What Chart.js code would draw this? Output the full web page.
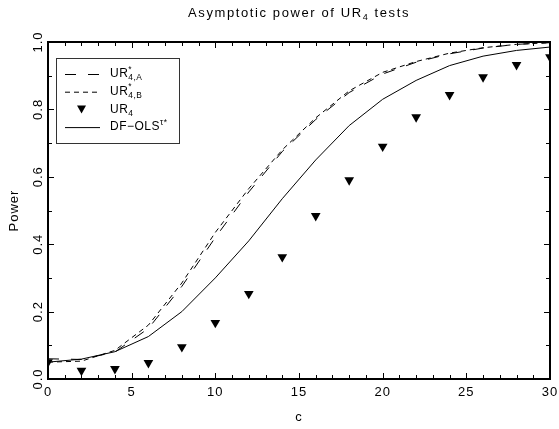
<!DOCTYPE html>
<html lang="en">
<head>
<meta charset="UTF-8">
<title>Asymptotic power of UR4 tests</title>
<script src="https://cdn.jsdelivr.net/npm/chart.js"></script>
<style>
  html, body { margin: 0; padding: 0; background: #fff; }
  #wrap { width: 559px; height: 429px; }
</style>
</head>
<body>
<div id="wrap"><canvas id="chart" width="559" height="429"></canvas></div>
<script>
// Data
const cValues = [0, 2, 4, 6, 8, 10, 12, 14, 16, 18, 20, 22, 24, 26, 28, 30];
const powerURA = [0.060, 0.058, 0.080, 0.150, 0.275, 0.420, 0.555, 0.675, 0.770, 0.850, 0.905, 0.940, 0.965, 0.982, 0.993, 0.998];
const powerURB = [0.050, 0.053, 0.085, 0.160, 0.285, 0.435, 0.565, 0.680, 0.775, 0.855, 0.910, 0.942, 0.967, 0.983, 0.993, 0.998];
const powerUR4 = [0.050, 0.025, 0.030, 0.048, 0.095, 0.167, 0.253, 0.362, 0.484, 0.590, 0.690, 0.777, 0.843, 0.896, 0.932, 0.955];
const powerDF = [0.050, 0.059, 0.081, 0.126, 0.200, 0.300, 0.410, 0.535, 0.650, 0.752, 0.830, 0.886, 0.930, 0.958, 0.975, 0.985];

const xTicks = [0, 5, 10, 15, 20, 25, 30];
const yTicks = [0.0, 0.2, 0.4, 0.6, 0.8, 1.0];

const FONT = '"Liberation Sans", Arial, sans-serif';

function pts(ys) {
    return cValues.map((c, i) => ({ x: c, y: ys[i] }));
}

// texte avec exposant / indice : parts = [{t, sup, sub}]
function drawRich(ctx, parts, x, y, size) {
    let cx = x;
    for (let i = 0; i < parts.length; i++) {
        const p = parts[i];
        if (p.sup || p.sub) {
            ctx.font = (size * 0.7) + 'px ' + FONT;
            let w = 0;
            if (p.sup) { ctx.fillText(p.sup, cx, y - size * 0.38); w = ctx.measureText(p.sup).width; }
            if (p.sub) { ctx.fillText(p.sub, cx, y + size * 0.32); w = Math.max(w, ctx.measureText(p.sub).width); }
            cx += w;
        } else {
            ctx.font = size + 'px ' + FONT;
            ctx.fillText(p.t, cx, y);
            cx += ctx.measureText(p.t).width;
        }
    }
    return cx - x;
}

function richWidth(ctx, parts, size) {
    let w = 0;
    for (const p of parts) {
        if (p.sup || p.sub) {
            ctx.font = (size * 0.7) + 'px ' + FONT;
            w += Math.max(p.sup ? ctx.measureText(p.sup).width : 0, p.sub ? ctx.measureText(p.sub).width : 0);
        } else {
            ctx.font = size + 'px ' + FONT;
            w += ctx.measureText(p.t).width;
        }
    }
    return w;
}

const legendItems = [
    { dash: [11, 12], marker: false, parts: [{ t: 'UR' }, { sup: '*', sub: '4,A' }] },
    { dash: [5, 4], marker: false, parts: [{ t: 'UR' }, { sup: '*', sub: '4,B' }] },
    { dash: null, marker: true, parts: [{ t: 'UR' }, { sub: '4' }] },
    { dash: [], marker: false, parts: [{ t: 'DF\u2212OLS' }, { sup: '\u03c4*' }] }
];

const framePlugin = {
    id: 'frame',
    afterDraw(chart) {
        const ctx = chart.ctx;
        const a = chart.chartArea;
        const xs = chart.scales.x, ys = chart.scales.y;
        ctx.save();
        ctx.fillStyle = '#000';
        ctx.strokeStyle = '#000';
        ctx.letterSpacing = '1px';

        // cadre
        ctx.lineWidth = 2;
        ctx.strokeRect(a.left, a.top, a.right - a.left, a.bottom - a.top);

        // graduations vers l'intérieur
        ctx.lineWidth = 1;
        ctx.beginPath();
        for (let v = 0; v <= 30; v++) {
            const px = Math.round(xs.getPixelForValue(v)) + 0.5;
            const len = v % 5 === 0 ? 6 : 4;
            ctx.moveTo(px, a.bottom); ctx.lineTo(px, a.bottom - len);
            ctx.moveTo(px, a.top); ctx.lineTo(px, a.top + len);
        }
        for (let k = 0; k <= 10; k++) {
            const py = Math.round(ys.getPixelForValue(k / 10)) + 0.5;
            const len = k % 2 === 0 ? 6 : 4;
            ctx.moveTo(a.left, py); ctx.lineTo(a.left + len, py);
            ctx.moveTo(a.right, py); ctx.lineTo(a.right - len, py);
        }
        ctx.stroke();

        // étiquettes des axes
        ctx.font = '13px ' + FONT;
        ctx.textAlign = 'center';
        ctx.textBaseline = 'middle';
        xTicks.forEach(v => ctx.fillText(String(v), xs.getPixelForValue(v), a.bottom + 13));
        yTicks.forEach(v => {
            ctx.save();
            ctx.translate(38, ys.getPixelForValue(v));
            ctx.rotate(-Math.PI / 2);
            ctx.fillText(v.toFixed(1), 0, 0);
            ctx.restore();
        });
        ctx.fillText('c', (a.left + a.right) / 2, a.bottom + 38);
        ctx.save();
        ctx.translate(14, (a.top + a.bottom) / 2);
        ctx.rotate(-Math.PI / 2);
        ctx.fillText('Power', 0, 0);
        ctx.restore();

        // titre
        ctx.textAlign = 'left';
        ctx.letterSpacing = '1.6px';
        const title = [{ t: 'Asymptotic power of UR' }, { sub: '4' }, { t: ' tests' }];
        const tw = richWidth(ctx, title, 13);
        drawRich(ctx, title, (a.left + a.right) / 2 - tw / 2, 13, 13);

        // légende
        ctx.letterSpacing = '0.5px';
        ctx.lineWidth = 1;
        ctx.strokeStyle = '#333';
        ctx.strokeRect(56.5, 58.5, 123, 85);
        ctx.strokeStyle = '#000';
        legendItems.forEach((it, i) => {
            const y = 74 + i * 17.7;
            if (it.marker) {
                ctx.beginPath();
                ctx.moveTo(77, y - 4); ctx.lineTo(86, y - 4); ctx.lineTo(81.5, y + 4);
                ctx.closePath();
                ctx.fill();
            } else {
                ctx.setLineDash(it.dash);
                ctx.beginPath();
                ctx.moveTo(65, y + 0.5); ctx.lineTo(100, y + 0.5);
                ctx.stroke();
                ctx.setLineDash([]);
            }
            drawRich(ctx, it.parts, 110, y, 12);
        });
        ctx.restore();
    }
};

new Chart(document.getElementById('chart'), {
    type: 'line',
    data: {
        datasets: [
            { label: 'URA', data: pts(powerURA), borderColor: '#000', borderWidth: 1, borderDash: [11, 12], pointRadius: 0, tension: 0, fill: false },
            { label: 'URB', data: pts(powerURB), borderColor: '#000', borderWidth: 1, borderDash: [5, 4], pointRadius: 0, tension: 0, fill: false },
            { label: 'UR4', data: pts(powerUR4), showLine: false, pointStyle: 'triangle', pointRotation: 180, pointRadius: 5.6, backgroundColor: '#000', borderColor: '#000', borderWidth: 0 },
            { label: 'DF', data: pts(powerDF), borderColor: '#000', borderWidth: 1, pointRadius: 0, tension: 0, fill: false }
        ]
    },
    options: {
        responsive: false,
        animation: false,
        layout: { padding: { left: 48, right: 9, top: 42, bottom: 50 } },
        plugins: { legend: { display: false }, title: { display: false }, tooltip: { enabled: false } },
        scales: {
            x: { type: 'linear', min: 0, max: 30, display: false },
            y: { type: 'linear', min: 0, max: 1, display: false }
        }
    },
    plugins: [framePlugin]
});
</script>
</body>
</html>
